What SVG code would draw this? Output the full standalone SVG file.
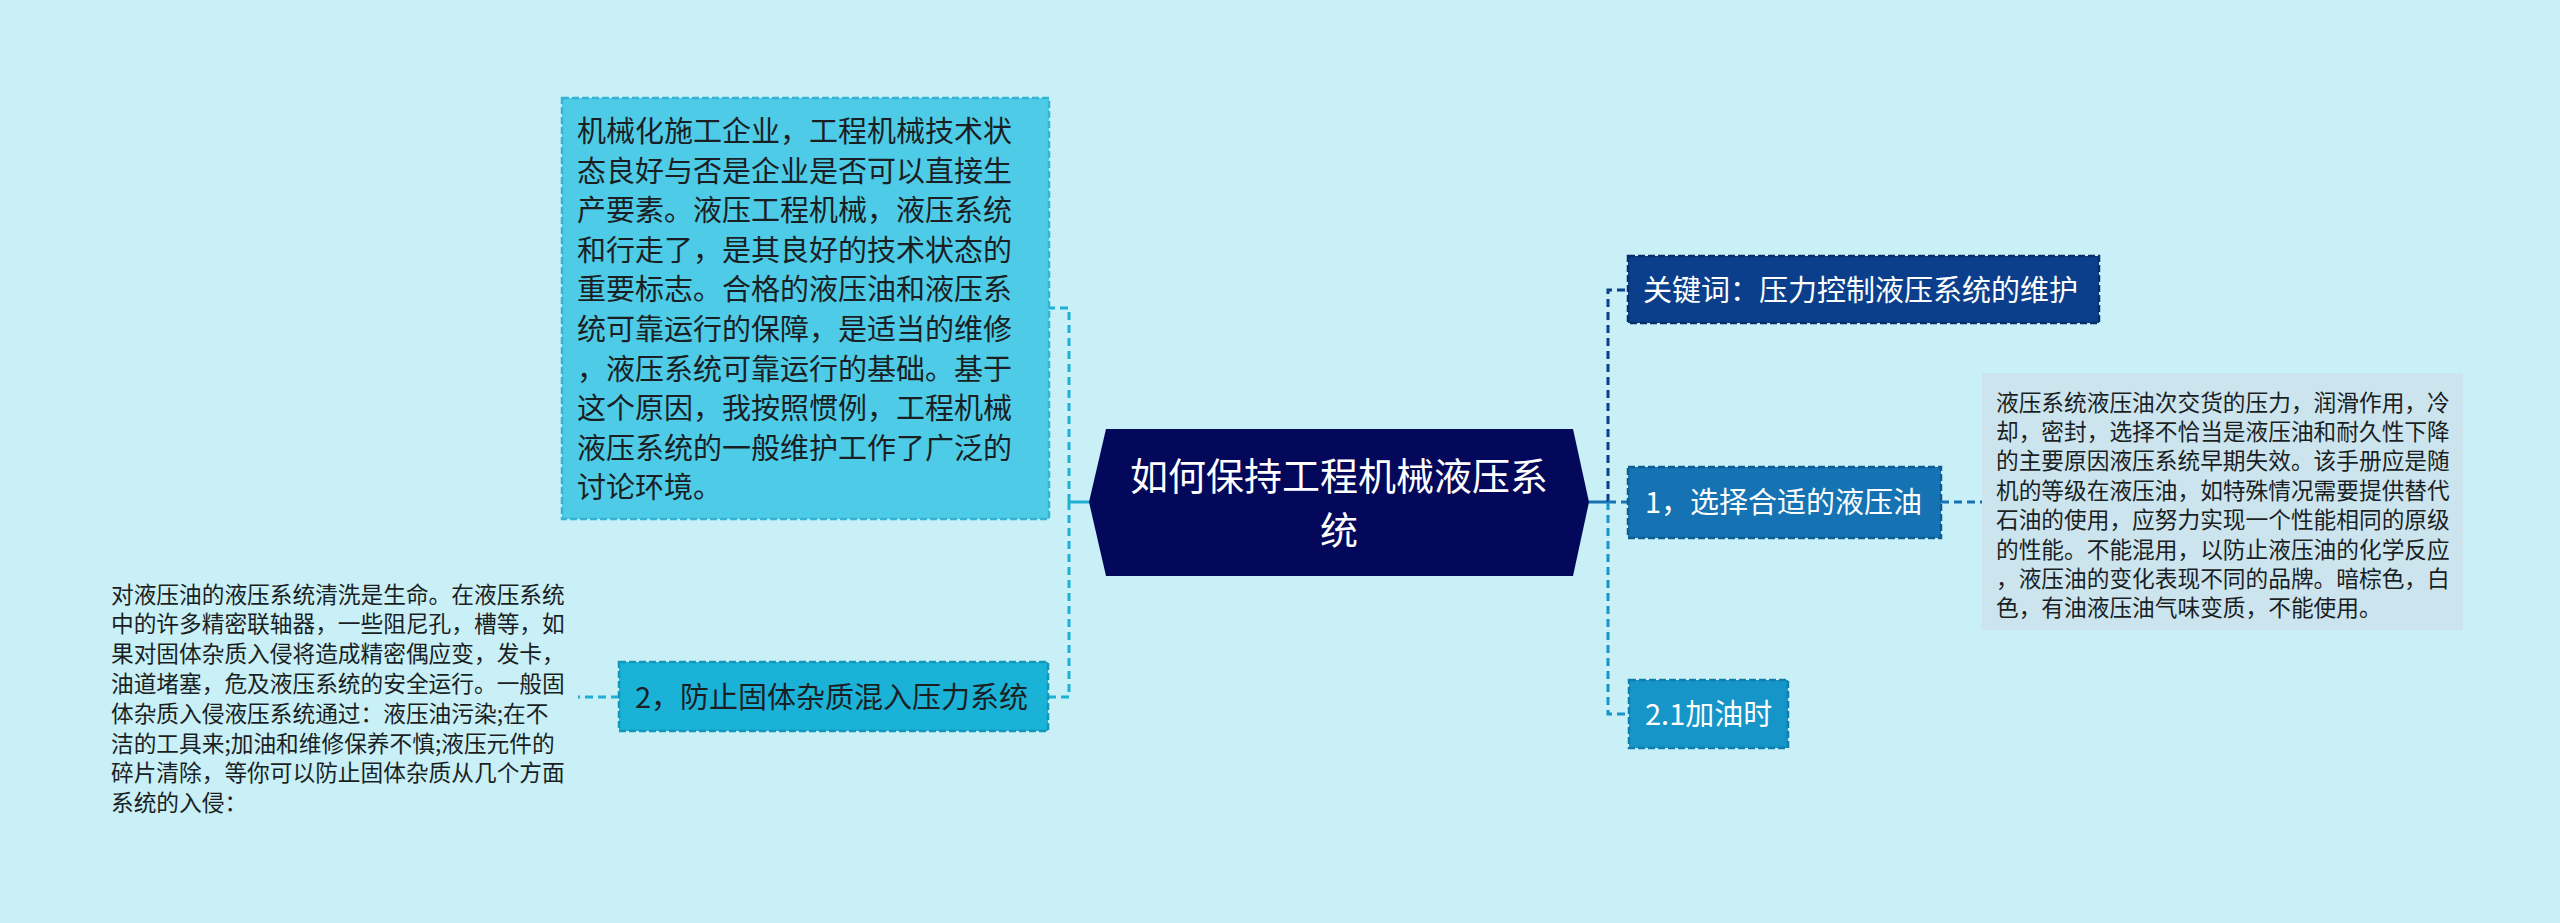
<svg xmlns="http://www.w3.org/2000/svg" width="2560" height="923" viewBox="0 0 2560 923">
<style>
text{font-family:"Noto Sans CJK SC","Noto Sans CJK JP",sans-serif;}
.dash{fill:none;stroke-width:3;stroke-dasharray:8 5;}
.solid{fill:none;stroke-width:3;}
.nb{stroke-width:2.5;stroke-dasharray:7 3;}
.w{fill:#ffffff;}
.d{fill:#1a1f24;}
.t29{font-size:29px;}
.t23{font-size:22.7px;}
</style>
<rect width="2560" height="923" fill="#c9eff7"/>
<g id="connectors">
<path class="solid" stroke="#1fb0d3" d="M1090 502H1069"/>
<path class="dash" stroke="#1fb0d3" d="M1069 502V308H1049"/>
<path class="dash" stroke="#1fb0d3" d="M1069 502V697H1048"/>
<path class="dash" stroke="#1fb0d3" d="M619 697H578"/>
<path class="solid" stroke="#1573b3" d="M1588 502H1608"/>
<path class="dash" stroke="#0b3f8c" d="M1608 502V290H1628"/>
<path class="dash" stroke="#1573b3" d="M1608 502H1628"/>
<path class="dash" stroke="#1595c8" d="M1608 502V714H1628"/>
<path class="dash" stroke="#1573b3" d="M1941 502H1982"/>
</g>
<g id="center">
<polygon points="1089,502 1106,429 1573,429 1589,502 1573,576 1106,576" fill="#04085a"/>
<text class="w" font-size="38" text-anchor="middle" x="1339" y="490">如何保持工程机械液压系</text>
<text class="w" font-size="38" text-anchor="middle" x="1339" y="544">统</text>
</g>
<g id="intro">
<rect class="nb" x="562" y="98" width="487" height="421" fill="#4ecbe7" stroke="#36b3d4"/>
<text class="d t29" x="577">
<tspan x="577" y="142">机械化施工企业，工程机械技术状</tspan>
<tspan x="577" y="181.6">态良好与否是企业是否可以直接生</tspan>
<tspan x="577" y="221.2">产要素。液压工程机械，液压系统</tspan>
<tspan x="577" y="260.8">和行走了，是其良好的技术状态的</tspan>
<tspan x="577" y="300.4">重要标志。合格的液压油和液压系</tspan>
<tspan x="577" y="340">统可靠运行的保障，是适当的维修</tspan>
<tspan x="577" y="379.6">，液压系统可靠运行的基础。基于</tspan>
<tspan x="577" y="419.2">这个原因，我按照惯例，工程机械</tspan>
<tspan x="577" y="458.8">液压系统的一般维护工作了广泛的</tspan>
<tspan x="577" y="498.4">讨论环境。</tspan>
</text>
</g>
<g id="node-solid">
<rect class="nb" x="619" y="662" width="429" height="69" fill="#1ab2d7" stroke="#1296ba"/>
<text class="d t29" x="635" y="708">2，防止固体杂质混入压力系统</text>
</g>
<g id="solid-detail">
<text class="d t23" x="111">
<tspan x="111" y="602.5">对液压油的液压系统清洗是生命。在液压系统</tspan>
<tspan x="111" y="632.3">中的许多精密联轴器，一些阻尼孔，槽等，如</tspan>
<tspan x="111" y="662.1">果对固体杂质入侵将造成精密偶应变，发卡，</tspan>
<tspan x="111" y="691.9">油道堵塞，危及液压系统的安全运行。一般固</tspan>
<tspan x="111" y="721.7">体杂质入侵液压系统通过：液压油污染;在不</tspan>
<tspan x="111" y="751.5">洁的工具来;加油和维修保养不慎;液压元件的</tspan>
<tspan x="111" y="781.3">碎片清除，等你可以防止固体杂质从几个方面</tspan>
<tspan x="111" y="811.1">系统的入侵：</tspan>
</text>
</g>
<g id="keyword">
<rect class="nb" x="1628" y="256" width="471" height="67" fill="#0b3f8c" stroke="#072d68"/>
<text class="w t29" x="1643" y="301">关键词：压力控制液压系统的维护</text>
</g>
<g id="node-oil">
<rect class="nb" x="1628" y="467" width="313" height="71" fill="#1573b3" stroke="#0f5c93"/>
<text class="w t29" x="1645" y="513">1，选择合适的液压油</text>
</g>
<g id="oil-detail">
<rect x="1982" y="373" width="481" height="257" fill="#cce4ee"/>
<text class="d t23" x="1996">
<tspan x="1996" y="410.5">液压系统液压油次交货的压力，润滑作用，冷</tspan>
<tspan x="1996" y="439.9">却，密封，选择不恰当是液压油和耐久性下降</tspan>
<tspan x="1996" y="469.3">的主要原因液压系统早期失效。该手册应是随</tspan>
<tspan x="1996" y="498.7">机的等级在液压油，如特殊情况需要提供替代</tspan>
<tspan x="1996" y="528.1">石油的使用，应努力实现一个性能相同的原级</tspan>
<tspan x="1996" y="557.5">的性能。不能混用，以防止液压油的化学反应</tspan>
<tspan x="1996" y="586.9">，液压油的变化表现不同的品牌。暗棕色，白</tspan>
<tspan x="1996" y="616.3">色，有油液压油气味变质，不能使用。</tspan>
</text>
</g>
<g id="node-refuel">
<rect class="nb" x="1629" y="680" width="159" height="68" fill="#1595c8" stroke="#0f7fae"/>
<text class="w t29" x="1645" y="725">2.1加油时</text>
</g>
</svg>
